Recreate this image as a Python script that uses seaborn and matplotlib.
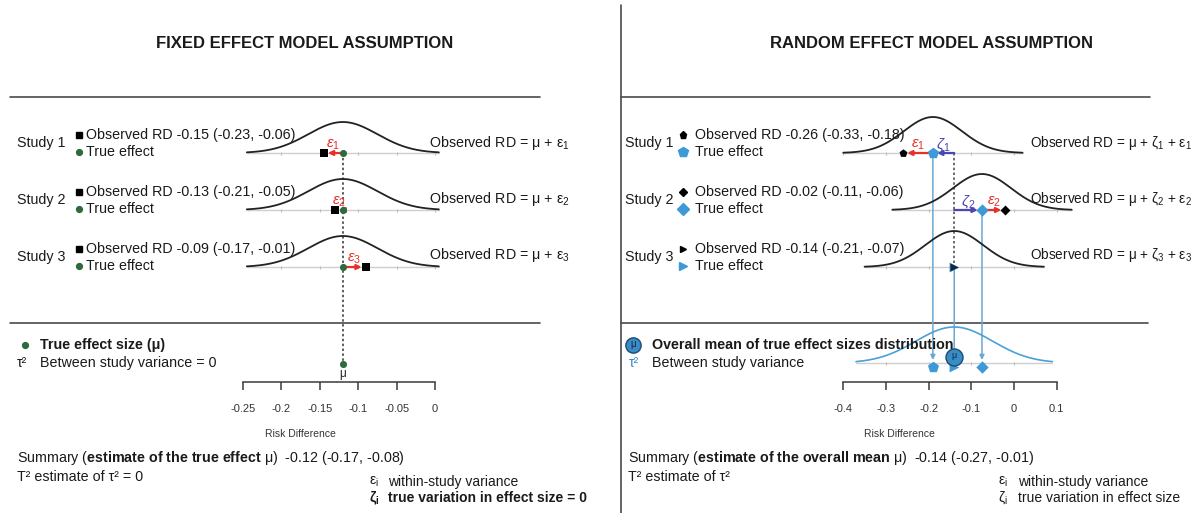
import numpy as np
import matplotlib.pyplot as plt
import seaborn as sns
from matplotlib.transforms import Affine2D

# values
studies = ['Study 1', 'Study 2', 'Study 3']

fe_observed = [-0.145, -0.13, -0.09]
fe_ci_text = ['-0.15 (-0.23, -0.06)', '-0.13 (-0.21, -0.05)', '-0.09 (-0.17, -0.01)']
fe_mu = -0.12
fe_ticks = [-0.25, -0.2, -0.15, -0.1, -0.05, 0]
fe_tick_labels = ['-0.25', '-0.2', '-0.15', '-0.1', '-0.05', '0']
fe_summary = '-0.12 (-0.17, -0.08)'

re_observed = [-0.26, -0.02, -0.14]
re_true = [-0.19, -0.075, -0.14]
re_ci_text = ['-0.26 (-0.33, -0.18)', '-0.02 (-0.11, -0.06)', '-0.14 (-0.21, -0.07)']
re_shapes = ['p', 'D', '>']
re_mu = -0.14
re_ticks = [-0.4, -0.3, -0.2, -0.1, 0, 0.1]
re_tick_labels = ['-0.4', '-0.3', '-0.2', '-0.1', '0', '0.1']
re_summary = '-0.14 (-0.27, -0.01)'

fe_within_sd = 0.045
re_within_sd = 0.068
tau = 0.09

# colours
RED = '#e8302a'
ZETA = '#4b46b2'
BLUE = '#3d9ad6'
BLUE_LINE = '#6aa8d4'
GREEN = '#2e6a3c'
MU_FILL = '#3a8cc6'
MU_EDGE = '#1d4b74'
GREY = '#4a4a4a'

sns.set_theme(style='white')
plt.rcParams['font.family'] = ['Liberation Sans', 'DejaVu Sans']
plt.rcParams['mathtext.fontset'] = 'custom'
plt.rcParams['mathtext.rm'] = 'Liberation Sans'
plt.rcParams['mathtext.it'] = 'Liberation Sans:italic'
plt.rcParams['mathtext.bf'] = 'Liberation Sans:bold'

W, H = 1198, 513
ROW_Y = [153, 210, 267]
AXIS_Y = 382
FS = 10.3

fig = plt.figure(figsize=(W / 100, H / 100), dpi=100)
pix = Affine2D().scale(1 / W, -1 / H).translate(0, 1) + fig.transFigure


def panel(x0, x1, zero_px, px_per_unit):
    ax = fig.add_axes([x0 / W, 0, (x1 - x0) / W, 1])
    lims = ((x0 - zero_px) / px_per_unit, (x1 - zero_px) / px_per_unit)
    return ax, lims


def bell(ax, center, sd, half, base, height, color, lw=1.3):
    x = np.linspace(center - half, center + half, 300)
    y = base - height * np.exp(-0.5 * ((x - center) / sd) ** 2)
    sns.lineplot(x=x, y=y, ax=ax, color=color, lw=lw, sort=False, estimator=None, zorder=2)


def baseline(ax, lo, hi, y, ticks):
    ax.plot([lo, hi], [y, y], color='#cfcfcf', lw=1, zorder=1)
    tk = [t for t in ticks if lo <= t <= hi]
    ax.vlines(tk, y - 1.5, y + 1.5, color='#bdbdbd', lw=0.8, zorder=1)


def arrow(ax, x_from, x_to, y, color, label):
    ax.annotate('', xy=(x_to, y), xytext=(x_from, y),
                arrowprops=dict(arrowstyle='-|>', color=color, lw=1.6,
                                mutation_scale=7, shrinkA=0, shrinkB=3), zorder=3)
    ax.text((x_from + x_to) / 2, y - 8, label, color=color, ha='center',
            va='center', fontsize=11)


def draw_axis(ax, ticks, labels, lims):
    for side in ['left', 'right', 'top']:
        ax.spines[side].set_visible(False)
    sp = ax.spines['bottom']
    sp.set_position(('data', AXIS_Y))
    sp.set_bounds(ticks[0], ticks[-1])
    sp.set_color('#3a3a3a')
    sp.set_linewidth(1.1)
    ax.set_xticks(ticks, labels)
    ax.set_yticks([])
    ax.tick_params(axis='x', bottom=True, direction='out', length=5.5, width=1.1,
                   color='#3a3a3a', labelcolor='#333333', labelsize=8, pad=10)
    ax.set_xlabel('Risk Difference', fontsize=7.5, color='#333333', labelpad=11)
    ax.set_ylabel('')
    ax.set_xlim(*lims)
    ax.set_ylim(H, 0)
    ax.patch.set_alpha(0)


def ptext(ax, x, y, s, **kw):
    kw.setdefault('fontsize', FS)
    kw.setdefault('va', 'center')
    kw.setdefault('color', '#1a1a1a')
    ax.text(x, y, s, transform=pix, **kw)


def pmark(ax, x, y, marker, ms, color, **kw):
    ax.plot([x], [y], marker=marker, ms=ms, color=color, ls='none',
            transform=pix, clip_on=False, **kw)


def pline(ax, xs, ys, **kw):
    ax.plot(xs, ys, transform=pix, clip_on=False, color=GREY, lw=1.2, **kw)


# ---------------- fixed effect panel ----------------
axL, limL = panel(0, 600, 435, 768)
ptext(axL, 305, 43, 'FIXED EFFECT MODEL ASSUMPTION', ha='center', fontsize=12,
      fontweight='bold')
pline(axL, [10, 540], [97, 97])
pline(axL, [10, 540], [323, 323])

for i, name in enumerate(studies):
    y = ROW_Y[i]
    bell(axL, fe_mu, fe_within_sd, 0.125, y, 31, '#222222')
    baseline(axL, fe_mu - 0.125, fe_mu + 0.125, y, fe_ticks)
    arrow(axL, fe_mu, fe_observed[i], y, RED, r'$\varepsilon_%d$' % (i + 1))
    sns.scatterplot(x=[fe_observed[i]], y=[y], ax=axL, marker='s', s=28,
                    color='black', linewidth=0, zorder=5)
    sns.scatterplot(x=[fe_mu], y=[y], ax=axL, marker='o', s=26, color=GREEN,
                    linewidth=0, zorder=6)
    ptext(axL, 17, y - 10, name)
    pmark(axL, 79, y - 18, 's', 4, 'black')
    ptext(axL, 86, y - 18, 'Observed RD ' + fe_ci_text[i])
    pmark(axL, 79, y - 1, 'o', 4.2, GREEN)
    ptext(axL, 86, y - 1, 'True effect')
    ptext(axL, 429, y - 10 - i, 'Observed RD = μ + ε$_%d$' % (i + 1))

axL.plot([fe_mu, fe_mu], [ROW_Y[0], 362], color='#333333', lw=1.1,
         ls=(0, (1.6, 1.6)), zorder=1)
sns.scatterplot(x=[fe_mu], y=[364], ax=axL, marker='o', s=26, color=GREEN,
                linewidth=0, zorder=6)
axL.text(fe_mu, 374, 'μ', ha='center', va='center', fontsize=8.5, color='#222222')

pmark(axL, 25, 345, 'o', 4.2, GREEN)
ptext(axL, 40, 345, 'True effect size (μ)', fontweight='bold')
ptext(axL, 17, 363, 'τ²')
ptext(axL, 40, 363, 'Between study variance = 0')
ptext(axL, 17, 458, r'Summary ($\mathbf{estimate\ of\ the\ true\ effect}$ μ)  ' + fe_summary)
ptext(axL, 17, 477, 'T² estimate of τ² = 0')
ptext(axL, 369, 482, r'ε$_{\mathregular{i}}$', fontsize=10)
ptext(axL, 388, 482, 'within-study variance', fontsize=10)
ptext(axL, 369, 498, r'ζ$_{\mathregular{i}}$', fontsize=10, fontweight='bold')
ptext(axL, 388, 498, 'true variation in effect size = 0', fontsize=10,
      fontweight='bold')
draw_axis(axL, fe_ticks, fe_tick_labels, limL)

# ---------------- random effect panel ----------------
axR, limR = panel(600, W, 1014, 427)
ptext(axR, 932, 43, 'RANDOM EFFECT MODEL ASSUMPTION', ha='center', fontsize=12,
      fontweight='bold')
pline(axR, [621, 621], [5, H])
pline(axR, [621, 1150], [97, 97])
pline(axR, [621, 1148], [323, 323])

marker_size = {'p': (36, 70), 'D': (26, 40), '>': (34, 50)}
for i, name in enumerate(studies):
    y = ROW_Y[i]
    t = re_true[i]
    shp = re_shapes[i]
    s_obs, s_true = marker_size[shp]
    bell(axR, t, re_within_sd, 0.21, y, 36, '#222222')
    baseline(axR, t - 0.21, t + 0.21, y, re_ticks)
    if t != re_mu:
        arrow(axR, re_mu, t, y, ZETA, r'$\zeta_%d$' % (i + 1))
    if re_observed[i] != t:
        arrow(axR, t, re_observed[i], y, RED, r'$\varepsilon_%d$' % (i + 1))
    axR.annotate('', xy=(t, 360), xytext=(t, y),
                 arrowprops=dict(arrowstyle='-|>', color=BLUE_LINE, lw=1.1,
                                 mutation_scale=7, shrinkA=0, shrinkB=0), zorder=2)
    sns.scatterplot(x=[t], y=[y], ax=axR, marker=shp, s=s_true, color=BLUE,
                    linewidth=0, zorder=5)
    sns.scatterplot(x=[re_observed[i]], y=[y], ax=axR, marker=shp, s=s_obs,
                    color='black' if shp != '>' else '#14273a', linewidth=0, zorder=6)
    sns.scatterplot(x=[t], y=[367], ax=axR, marker=shp, s=s_true, color=BLUE,
                    linewidth=0, zorder=5)
    ptext(axR, 625, y - 10, name)
    pmark(axR, 683, y - 18, shp, np.sqrt(s_obs) * 0.85, 'black')
    ptext(axR, 695, y - 18, 'Observed RD ' + re_ci_text[i])
    pmark(axR, 683, y - 1, shp, np.sqrt(s_true) * 0.9, BLUE)
    ptext(axR, 695, y - 1, 'True effect')
    ptext(axR, 1030, y - 10 - i, 'Observed RD = μ + ζ$_%d$ + ε$_%d$' % (i + 1, i + 1),
          fontsize=9.8)

axR.plot([re_mu, re_mu], [ROW_Y[0], ROW_Y[2]], color='#444444', lw=1.1,
         ls=(0, (1.6, 1.6)), zorder=1)

# between-study distribution
bell(axR, re_mu, tau, 0.23, 363, 36, '#4aa0d8', lw=1.2)
baseline(axR, re_mu - 0.23, re_mu + 0.23, 363, re_ticks)
sns.scatterplot(x=[re_mu], y=[357], ax=axR, marker='o', s=150, color=MU_FILL,
                edgecolor=MU_EDGE, linewidth=1, zorder=7)
axR.text(re_mu, 356, 'μ', ha='center', va='center', fontsize=6.5, color='#0d2a45',
         zorder=8)

pmark(axR, 633, 345, 'o', 11, MU_FILL, mec=MU_EDGE, mew=1)
ptext(axR, 633, 344, 'μ', ha='center', fontsize=7, color='#0d2a45')
ptext(axR, 652, 345, 'Overall mean of true effect sizes distribution', fontweight='bold')
ptext(axR, 629, 363, 'τ²', color=MU_FILL)
ptext(axR, 652, 363, 'Between study variance')
ptext(axR, 628, 458, r'Summary ($\mathbf{estimate\ of\ the\ overall\ mean}$ μ)  ' + re_summary)
ptext(axR, 628, 477, 'T² estimate of τ²')
ptext(axR, 998, 482, r'ε$_{\mathregular{i}}$', fontsize=10)
ptext(axR, 1018, 482, 'within-study variance', fontsize=10)
ptext(axR, 998, 498, r'ζ$_{\mathregular{i}}$', fontsize=10)
ptext(axR, 1018, 498, 'true variation in effect size', fontsize=10)
draw_axis(axR, re_ticks, re_tick_labels, limR)

fig.savefig('out.png', dpi=100)
